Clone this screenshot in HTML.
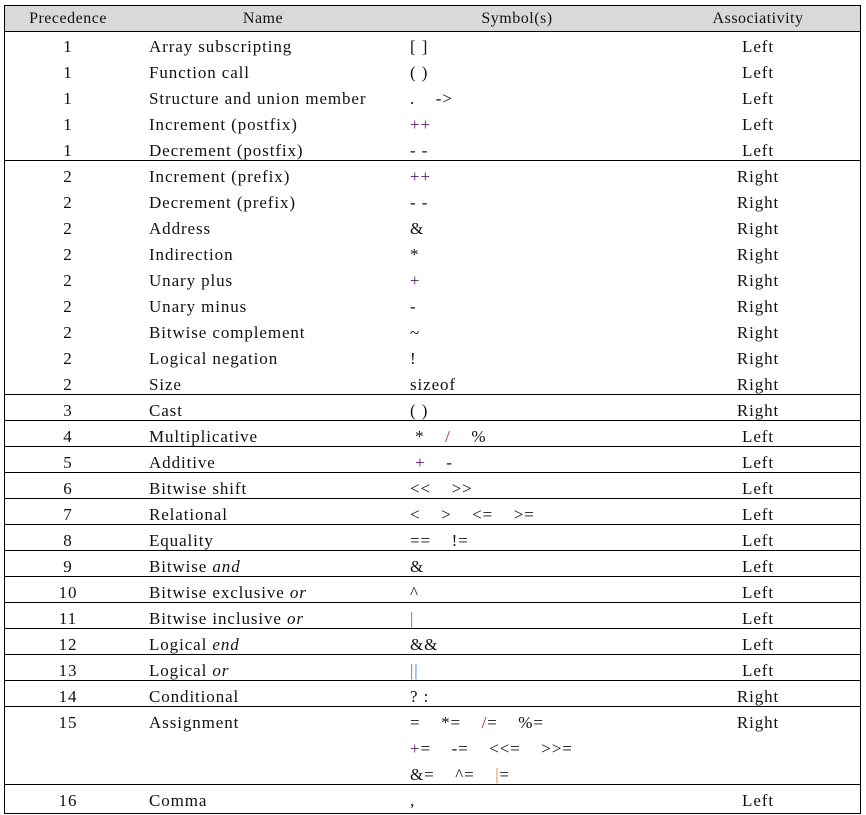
<!DOCTYPE html>
<html><head><meta charset="utf-8"><style>
body{margin:0;background:#fff;width:866px;height:815px;position:relative;font-family:"Liberation Serif",serif;font-size:17px;color:#111;letter-spacing:0.9px}
.b{position:absolute;left:4px;top:5px;width:855px;height:807px;border:1px solid #000}
.h{position:absolute;left:5px;top:6px;width:855px;height:25px;background:#d9d9d9;border-bottom:1px solid #000}
.l{position:absolute;left:5px;width:855px;height:0;border-top:1px solid #000}
.r{position:absolute;height:20px;line-height:20px;white-space:nowrap;margin-top:1px}
.p{left:18px;width:100px;text-align:center}
.n{left:149px}
.s{left:410px}
.a{left:708px;width:100px;text-align:center}
.hd{position:absolute;top:9px;line-height:20px;font-size:16px;letter-spacing:0.5px}
.pu{color:#5a1a6a}.bl{color:#3a7bd5}.or{color:#d08a30}
</style></head><body>
<div class="b"></div><div class="h"></div>
<div class="hd" style="left:18px;width:100px;text-align:center">Precedence</div>
<div class="hd" style="left:213px;width:100px;text-align:center">Name</div>
<div class="hd" style="left:467px;width:100px;text-align:center">Symbol(s)</div>
<div class="hd" style="left:708px;width:100px;text-align:center">Associativity</div>
<div class="l" style="top:160px"></div>
<div class="l" style="top:394px"></div>
<div class="l" style="top:420px"></div>
<div class="l" style="top:446px"></div>
<div class="l" style="top:472px"></div>
<div class="l" style="top:498px"></div>
<div class="l" style="top:524px"></div>
<div class="l" style="top:550px"></div>
<div class="l" style="top:576px"></div>
<div class="l" style="top:602px"></div>
<div class="l" style="top:628px"></div>
<div class="l" style="top:654px"></div>
<div class="l" style="top:680px"></div>
<div class="l" style="top:706px"></div>
<div class="l" style="top:784px"></div>

<div class="r p" style="top:36px">1</div><div class="r n" style="top:36px">Array subscripting</div><div class="r s" style="top:36px">[ ]</div><div class="r a" style="top:36px">Left</div>
<div class="r p" style="top:62px">1</div><div class="r n" style="top:62px">Function call</div><div class="r s" style="top:62px">( )</div><div class="r a" style="top:62px">Left</div>
<div class="r p" style="top:88px">1</div><div class="r n" style="top:88px">Structure and union member</div><div class="r s" style="top:88px">.&nbsp;&nbsp;&nbsp; -&gt;</div><div class="r a" style="top:88px">Left</div>
<div class="r p" style="top:114px">1</div><div class="r n" style="top:114px">Increment (postfix)</div><div class="r s pu" style="top:114px">++</div><div class="r a" style="top:114px">Left</div>
<div class="r p" style="top:140px">1</div><div class="r n" style="top:140px">Decrement (postfix)</div><div class="r s" style="top:140px">- -</div><div class="r a" style="top:140px">Left</div>
<div class="r p" style="top:166px">2</div><div class="r n" style="top:166px">Increment (prefix)</div><div class="r s pu" style="top:166px">++</div><div class="r a" style="top:166px">Right</div>
<div class="r p" style="top:192px">2</div><div class="r n" style="top:192px">Decrement (prefix)</div><div class="r s" style="top:192px">- -</div><div class="r a" style="top:192px">Right</div>
<div class="r p" style="top:218px">2</div><div class="r n" style="top:218px">Address</div><div class="r s" style="top:218px">&amp;</div><div class="r a" style="top:218px">Right</div>
<div class="r p" style="top:244px">2</div><div class="r n" style="top:244px">Indirection</div><div class="r s" style="top:244px">*</div><div class="r a" style="top:244px">Right</div>
<div class="r p" style="top:270px">2</div><div class="r n" style="top:270px">Unary plus</div><div class="r s pu" style="top:270px">+</div><div class="r a" style="top:270px">Right</div>
<div class="r p" style="top:296px">2</div><div class="r n" style="top:296px">Unary minus</div><div class="r s" style="top:296px">-</div><div class="r a" style="top:296px">Right</div>
<div class="r p" style="top:322px">2</div><div class="r n" style="top:322px">Bitwise complement</div><div class="r s" style="top:322px">~</div><div class="r a" style="top:322px">Right</div>
<div class="r p" style="top:348px">2</div><div class="r n" style="top:348px">Logical negation</div><div class="r s" style="top:348px">!</div><div class="r a" style="top:348px">Right</div>
<div class="r p" style="top:374px">2</div><div class="r n" style="top:374px">Size</div><div class="r s" style="top:374px">sizeof</div><div class="r a" style="top:374px">Right</div>
<div class="r p" style="top:400px">3</div><div class="r n" style="top:400px">Cast</div><div class="r s" style="top:400px">( )</div><div class="r a" style="top:400px">Right</div>
<div class="r p" style="top:426px">4</div><div class="r n" style="top:426px">Multiplicative</div><div class="r s" style="top:426px">&nbsp;*&nbsp;&nbsp;&nbsp; <span style="color:#a02020">/</span>&nbsp;&nbsp;&nbsp; %</div><div class="r a" style="top:426px">Left</div>
<div class="r p" style="top:452px">5</div><div class="r n" style="top:452px">Additive</div><div class="r s" style="top:452px"><span class="pu">&nbsp;+</span>&nbsp;&nbsp;&nbsp; -</div><div class="r a" style="top:452px">Left</div>
<div class="r p" style="top:478px">6</div><div class="r n" style="top:478px">Bitwise shift</div><div class="r s" style="top:478px">&lt;&lt;&nbsp;&nbsp;&nbsp; &gt;&gt;</div><div class="r a" style="top:478px">Left</div>
<div class="r p" style="top:504px">7</div><div class="r n" style="top:504px">Relational</div><div class="r s" style="top:504px">&lt;&nbsp;&nbsp;&nbsp; &gt;&nbsp;&nbsp;&nbsp; &lt;=&nbsp;&nbsp;&nbsp; &gt;=</div><div class="r a" style="top:504px">Left</div>
<div class="r p" style="top:530px">8</div><div class="r n" style="top:530px">Equality</div><div class="r s" style="top:530px">==&nbsp;&nbsp;&nbsp; !=</div><div class="r a" style="top:530px">Left</div>
<div class="r p" style="top:556px">9</div><div class="r n" style="top:556px">Bitwise <i>and</i></div><div class="r s" style="top:556px">&amp;</div><div class="r a" style="top:556px">Left</div>
<div class="r p" style="top:582px">10</div><div class="r n" style="top:582px">Bitwise exclusive <i>or</i></div><div class="r s" style="top:582px">^</div><div class="r a" style="top:582px">Left</div>
<div class="r p" style="top:608px">11</div><div class="r n" style="top:608px">Bitwise inclusive <i>or</i></div><div class="r s bl" style="top:608px">|</div><div class="r a" style="top:608px">Left</div>
<div class="r p" style="top:634px">12</div><div class="r n" style="top:634px">Logical <i>end</i></div><div class="r s" style="top:634px">&amp;&amp;</div><div class="r a" style="top:634px">Left</div>
<div class="r p" style="top:660px">13</div><div class="r n" style="top:660px">Logical <i>or</i></div><div class="r s bl" style="top:660px">||</div><div class="r a" style="top:660px">Left</div>
<div class="r p" style="top:686px">14</div><div class="r n" style="top:686px">Conditional</div><div class="r s" style="top:686px">? :</div><div class="r a" style="top:686px">Right</div>
<div class="r p" style="top:712px">15</div><div class="r n" style="top:712px">Assignment</div><div class="r s" style="top:712px">=&nbsp;&nbsp;&nbsp; *=&nbsp;&nbsp;&nbsp; <span style="color:#a02020">/</span>=&nbsp;&nbsp;&nbsp; %=</div><div class="r a" style="top:712px">Right</div>
<div class="r s" style="top:738px"><span class="pu">+</span>=&nbsp;&nbsp;&nbsp; -=&nbsp;&nbsp;&nbsp; &lt;&lt;=&nbsp;&nbsp;&nbsp; &gt;&gt;=</div>
<div class="r s" style="top:764px">&amp;=&nbsp;&nbsp;&nbsp; ^=&nbsp;&nbsp;&nbsp; <span class="or">|</span>=</div>
<div class="r p" style="top:790px">16</div><div class="r n" style="top:790px">Comma</div><div class="r s" style="top:790px">,</div><div class="r a" style="top:790px">Left</div>
</body></html>
